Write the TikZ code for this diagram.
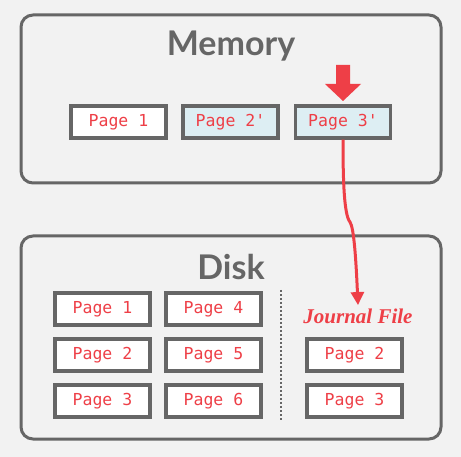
\documentclass[tikz,border=0pt]{standalone}
\usepackage{fontspec}
\setmainfont{Lato}
\newfontfamily\pagefont{DejaVu Sans Mono}
\newfontfamily\jfont{Liberation Serif}
\usetikzlibrary{arrows.meta}
\definecolor{bg}{HTML}{F2F2F2}
\definecolor{frame}{HTML}{666666}
\definecolor{redtxt}{HTML}{EE3F47}
\definecolor{lblue}{HTML}{DDEEF3}
\tikzset{
  container/.style={draw=frame, line width=3pt, rounded corners=12pt},
  pagebox/.style={draw=frame, line width=3.5pt, fill=white, minimum width=95pt, minimum height=32pt, inner sep=0pt,
     text=redtxt, font=\pagefont\fontsize{16.5}{18}\selectfont},
  dirty/.style={pagebox, fill=lblue},
  title/.style={text=frame, font=\bfseries\fontsize{34}{38}\selectfont},
}
\begin{document}
\begin{tikzpicture}[x=1pt,y=-1pt]
\fill[bg] (0,0) rectangle (461,457);
\useasboundingbox (0,0) rectangle (461,457);
% memory
\draw[container] (21,15) rectangle (441,183);
\node[title] (mem) at (231,46) {Memory};
\node[pagebox] (m1) at (118.5,122) {Page 1};
\node[dirty] (m2) at (230.5,122) {Page 2'};
\node[dirty] (m3) at (343,122) {Page 3'};
% block arrow
\fill[redtxt] (336,65) -- (350,65) -- (350,84) -- (361,84) -- (343,101) -- (325,84) -- (336,84) -- cycle;
% disk
\draw[container] (21,236) rectangle (441,439);
\node[title] (disk) at (231,267) {Disk};
\node[pagebox] (d1) at (102.5,309) {Page 1};
\node[pagebox] (d2) at (102.5,355) {Page 2};
\node[pagebox] (d3) at (102.5,401) {Page 3};
\node[pagebox] (d4) at (213.5,309) {Page 4};
\node[pagebox] (d5) at (213.5,355) {Page 5};
\node[pagebox] (d6) at (213.5,401) {Page 6};
\node[pagebox] (j2) at (354.5,355) {Page 2};
\node[pagebox] (j3) at (354.5,401) {Page 3};
\coordinate (dtop) at (281,290);
\coordinate (dbot) at (281,420);
\draw[frame, line width=2pt, dash pattern=on 2pt off 2pt] (dtop) -- (dbot);
\node[text=redtxt, font=\jfont\bfseries\itshape\fontsize{21}{23}\selectfont] (jf) at (358,316) {Journal File};
% red connector
\coordinate (kink) at (350,222);
\draw[redtxt, line width=3pt, -{Triangle[length=13pt,width=13pt]}]
  (m3.south) .. controls (343,180) and (344,215) .. (kink)
  .. controls (354,228) and (356,260) .. (jf.north -| 358,0) ;
\end{tikzpicture}
\end{document}
